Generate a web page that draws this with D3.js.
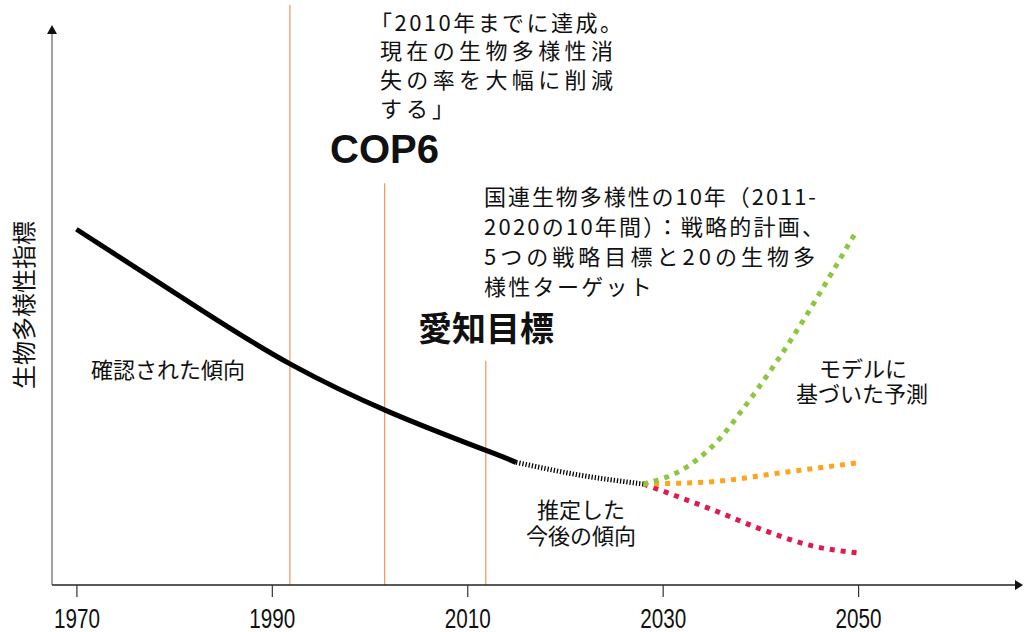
<!DOCTYPE html>
<meta charset="utf-8">
<head>
<style>
body { margin: 0; background: #fff; }
svg { display: block; }
.jp {
  font-family: "Noto Sans CJK JP", sans-serif;
  font-size: 22px;
  fill: #111;
}
.tick text {
  font-family: "Liberation Sans", Arial, sans-serif;
  font-size: 27px;
  fill: #111;
}
.tick line { stroke: #333; stroke-width: 1.2; }
</style>
</head>
<body>

<svg width="1024" height="632"></svg>

<script src="https://cdn.jsdelivr.net/npm/d3@7"></script>
<script>

var tickYears = [1970, 1990, 2010, 2030, 2050];

// confirmed trend (solid) and estimated continuation (dotted black)
var obsYears  = [1970, 1983, 1992, 2002, 2012, 2015];
var obsValues = [64.1, 49.3, 39.7, 31.2, 24.2, 22.1];
var estYears  = [2015, 2021.5, 2028];
var estValues = [22.1, 19.8, 18.2];

// model-based projections
var greenYears   = [2028, 2032.5, 2036, 2038, 2041.3, 2044.4, 2047.5, 2049.7];
var greenValues  = [18.2, 21.3, 26.7, 31.2, 39.3, 47.7, 56.8, 63.4];
var orangeYears  = [2028, 2035, 2042, 2049.9];
var orangeValues = [18.2, 18.6, 20.2, 22.0];
var redYears     = [2028, 2035.2, 2040.3, 2045.4, 2049.9];
var redValues    = [18.2, 13.5, 9.9, 7.0, 5.8];

// event markers: year and how high the line reaches
var eventYears = [1991.85, 2001.55, 2011.9];
var eventTops  = [104.5, 72.4, 40.4];

var svg = d3.select("svg");

var x = d3.scaleLinear().domain([1970, 2050]).range([76.4, 858.1]),
    y = d3.scaleLinear().domain([0, 100]).range([585, 30]);

var axisLeft = 52, axisRight = 1015, axisTop = 34;

function pts(xs, vs) {
  return xs.map(function(d, i) { return [d, vs[i]]; });
}

var line = d3.line()
    .x(function(d) { return x(d[0]); })
    .y(function(d) { return y(d[1]); })
    .curve(d3.curveMonotoneX);

var smooth = d3.line()
    .x(function(d) { return x(d[0]); })
    .y(function(d) { return y(d[1]); })
    .curve(d3.curveNatural);

// event lines
svg.append("g").selectAll("line")
    .data(eventYears)
  .enter().append("line")
    .attr("x1", function(d) { return x(d); })
    .attr("x2", function(d) { return x(d); })
    .attr("y1", function(d, i) { return y(eventTops[i]); })
    .attr("y2", y(0))
    .attr("stroke", "#f08a4b")
    .attr("stroke-width", 1.1);

// axes
svg.append("line")
    .attr("x1", axisLeft).attr("x2", axisRight)
    .attr("y1", y(0)).attr("y2", y(0))
    .attr("stroke", "#222").attr("stroke-width", 1.3);
svg.append("path")
    .attr("d", "M" + axisRight + "," + (y(0) - 5) + "L" + (axisRight + 8) + "," + y(0) + "L" + axisRight + "," + (y(0) + 5) + "Z")
    .attr("fill", "#111");

svg.append("line")
    .attr("x1", axisLeft).attr("x2", axisLeft)
    .attr("y1", y(0)).attr("y2", axisTop)
    .attr("stroke", "#555").attr("stroke-width", 1.1);
svg.append("path")
    .attr("d", "M" + (axisLeft - 5) + "," + axisTop + "L" + axisLeft + "," + (axisTop - 9) + "L" + (axisLeft + 5) + "," + axisTop + "Z")
    .attr("fill", "#111");

var xAxis = svg.append("g")
    .attr("transform", "translate(0," + y(0) + ")")
    .call(d3.axisBottom(x).tickValues(tickYears).tickSize(12).tickFormat(d3.format("d")));
xAxis.select(".domain").remove();
xAxis.selectAll(".tick text")
    .attr("y", 43)
    .attr("dy", 0)
    .attr("textLength", 46)
    .attr("lengthAdjust", "spacingAndGlyphs");

// projections
svg.append("path")
    .attr("d", line(pts(redYears, redValues)))
    .attr("fill", "none").attr("stroke", "#e0194f")
    .attr("stroke-width", 5).attr("stroke-dasharray", "5,6");
svg.append("path")
    .attr("d", line(pts(orangeYears, orangeValues)))
    .attr("fill", "none").attr("stroke", "#ffa41c")
    .attr("stroke-width", 5).attr("stroke-dasharray", "5,6");
svg.append("path")
    .attr("d", line(pts(greenYears, greenValues)))
    .attr("fill", "none").attr("stroke", "#8dc63f")
    .attr("stroke-width", 5).attr("stroke-dasharray", "5,6");

// observed and estimated
svg.append("path")
    .attr("d", smooth(pts(estYears, estValues)))
    .attr("fill", "none").attr("stroke", "#000")
    .attr("stroke-width", 5).attr("stroke-dasharray", "1.3,1.9");
svg.append("path")
    .attr("d", smooth(pts(obsYears, obsValues)))
    .attr("fill", "none").attr("stroke", "#000")
    .attr("stroke-width", 5);

// labels
function textLines(lines, opts) {
  var t = svg.append("g");
  lines.forEach(function(s, i) {
    var e = t.append("text")
        .attr("class", "jp")
        .attr("x", opts.x[i])
        .attr("y", opts.y + i * opts.lh)
        .text(s);
    if (opts.anchor) e.attr("text-anchor", opts.anchor);
    if (opts.len && opts.len[i]) e.attr("textLength", opts.len[i]).attr("lengthAdjust", "spacing");
    if (opts.ls && opts.ls[i]) e.style("letter-spacing", opts.ls[i] + "px");
  });
  return t;
}

textLines(["「2010年までに達成。", "現在の生物多様性消", "失の率を大幅に削減", "する」"],
  { x: [370, 380, 380, 380], y: 30.5, lh: 28.7, len: [252, 233, 233, 0], ls: [0, 0, 0, 4] });

svg.append("text")
    .attr("x", 330).attr("y", 163)
    .style("font-family", "'Liberation Sans', Arial, sans-serif")
    .style("font-weight", "bold").style("font-size", "40px")
    .attr("fill", "#111")
    .text("COP6");

textLines(["国連生物多様性の10年（2011-", "2020の10年間）：戦略的計画、", "5つの戦略目標と20の生物多", "様性ターゲット"],
  { x: [484, 484, 484, 484], y: 205.4, lh: 30, len: [332, 340, 331, 0], ls: [0, 0, 0, 2.3] });

svg.append("text")
    .attr("class", "jp")
    .attr("x", 418).attr("y", 340.5)
    .style("font-weight", "bold").style("font-size", "34px")
    .text("愛知目標");

textLines(["確認された傾向"], { x: [91], y: 378, lh: 0 });
textLines(["推定した", "今後の傾向"], { x: [581, 581], y: 518, lh: 25.5, anchor: "middle" });
textLines(["モデルに", "基づいた予測"], { x: [863, 862], y: 377, lh: 25, anchor: "middle" });

svg.append("text")
    .attr("class", "jp")
    .attr("transform", "translate(33,305) rotate(-90)")
    .attr("text-anchor", "middle")
    .style("font-size", "24px")
    .attr("fill", "#333")
    .text("生物多様性指標");

</script>
</body>
